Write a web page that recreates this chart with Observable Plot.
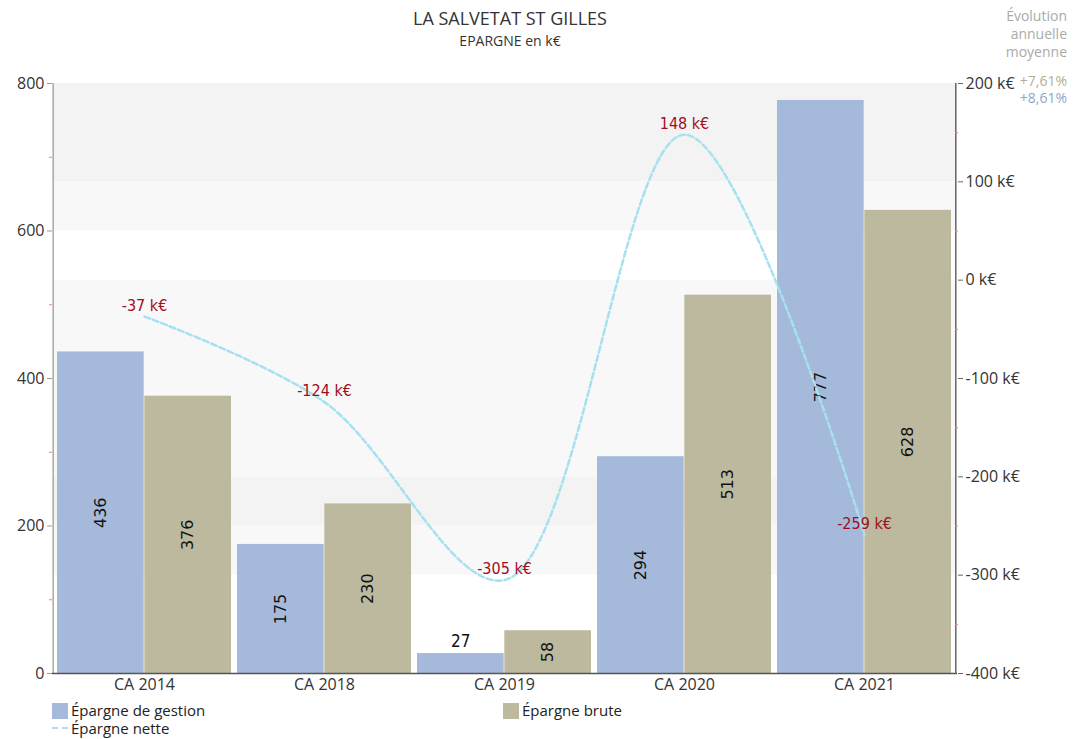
<!DOCTYPE html>
<html><head><meta charset="utf-8">
<script src="https://cdn.jsdelivr.net/npm/d3@7"></script>
<script src="https://cdn.jsdelivr.net/npm/@observablehq/plot@0.6"></script>
<style>
body{margin:0;background:#fff;font-family:"Open Sans",sans-serif;}
#wrap{position:relative;width:1083px;height:739px;overflow:hidden;}
#wrap svg{position:absolute;left:0;top:0;}
.t{position:absolute;white-space:nowrap;}
.cond text{font-stretch:condensed;}
</style></head><body>
<div id="wrap">
<div class="t" style="left:0;width:1020px;text-align:center;top:6px;font-size:18px;color:#333;">LA SALVETAT ST GILLES</div>
<div class="t" style="left:0;width:1020px;text-align:center;top:31px;font-size:14px;color:#333;">EPARGNE en k€</div>
<div class="t" style="right:16px;top:7px;text-align:right;font-size:14px;line-height:18px;color:#aaa;">Évolution<br>annuelle<br>moyenne</div>
<div class="t" id="evo1" style="right:16px;top:73px;font-size:14px;line-height:16px;color:#b3ae95;"></div>
<div class="t" id="evo2" style="right:16px;top:90px;font-size:14px;line-height:16px;color:#8ea6cc;"></div>
<div class="t" style="left:52px;top:702px;font-size:15px;line-height:16px;height:17px;color:#222;"><span style="display:inline-block;width:16px;height:16px;background:#a5badb;vertical-align:-3px;margin-right:3px"></span><span id="lg1"></span></div>
<div class="t" style="left:503px;top:702px;font-size:15px;line-height:16px;height:17px;color:#222;"><span style="display:inline-block;width:16px;height:16px;background:#bdb99f;vertical-align:-3px;margin-right:3px"></span><span id="lg2"></span></div>
<div class="t" style="left:52px;top:720px;font-size:15px;line-height:16px;color:#222;"><span style="display:inline-block;width:16px;height:0;border-top:2px dashed #a6e1ef;vertical-align:5px;margin-right:3px"></span><span id="lg3"></span></div>
</div>
<script>
const categories = ["CA 2014","CA 2018","CA 2019","CA 2020","CA 2021"];
const gestion = [436,175,27,294,777];
const brute = [376,230,58,513,628];
const nette = [-37,-124,-305,148,-259];
const seriesNames = ["Épargne de gestion","Épargne brute","Épargne nette"];
const leftTicks = [0,200,400,600,800];
const leftMinor = [100,300,500,700];
const rightTicks = [-400,-300,-200,-100,0,100,200];
const rightMinor = [-350,-250,-150,-50,50,150];
const evolution = ["+7,61%","+8,61%"];
const darkBands = [[100,200],[-250,-200]];
const lightBands = [[50,100],[-200,0],[-300,-250]];

document.getElementById("lg1").textContent = seriesNames[0];
document.getElementById("lg2").textContent = seriesNames[1];
document.getElementById("lg3").textContent = seriesNames[2];
document.getElementById("evo1").textContent = evolution[0];
document.getElementById("evo2").textContent = evolution[1];

const W = 1083, H = 739, mL = 52, mR = 126, mT = 83, mB = 66;
const pI = 0.033, pO = 0.022;
const step = (W - mL - mR) / (categories.length - pI + 2*pO);
const bw = step * (1 - pI);
const half = bw / 2;
const edge = step * pO + bw / 2; // from band centre to frame edge

const toLeft = v => (v + 400) * 800 / 600;
const fromLeft = d => Math.round(d * 600 / 800 - 400);

const rows = categories.map((c,i) => ({c, g: gestion[i], b: brute[i], n: nette[i]}));
const font = "Open Sans";
const condFont = "'DejaVu Sans Condensed', 'Liberation Sans Narrow', Roboto, sans-serif";

const plot = Plot.plot({
  width: W, height: H,
  marginLeft: mL, marginRight: mR, marginTop: mT, marginBottom: mB,
  style: {fontFamily: font, fontSize: "15px", color: "#333", background: "transparent"},
  x: {type: "band", domain: categories, paddingInner: pI, paddingOuter: pO, axis: null},
  y: {domain: [0, 800], axis: null},
  marks: [
    Plot.rect(darkBands, {y1: d => toLeft(d[0]), y2: d => toLeft(d[1]), fill: "#f3f3f3"}),
    Plot.rect(lightBands, {y1: d => toLeft(d[0]), y2: d => toLeft(d[1]), fill: "#f8f8f8"}),
    Plot.barY(rows, {x: "c", y: "g", fill: "#a5badb", insetRight: half}),
    Plot.barY(rows, {x: "c", y: "b", fill: "#bdb99f", insetLeft: half}),
    Plot.text(rows.filter(d => d.g >= 40), {x: "c", y: d => d.g / 2, text: d => String(d.g), rotate: -90, dx: -half/2, fill: "#111", fontSize: 16, fontFamily: "DejaVu Sans"}),
    Plot.text(rows.filter(d => d.g < 40), {x: "c", y: "g", text: d => String(d.g), dx: -half/2, dy: -12, fill: "#111", fontSize: 17, fontFamily: condFont, className: "cond"}),
    Plot.text(rows.filter(d => d.b >= 40), {x: "c", y: d => d.b / 2, text: d => String(d.b), rotate: -90, dx: half/2, fill: "#111", fontSize: 16, fontFamily: "DejaVu Sans"}),
    Plot.line(rows, {x: "c", y: d => toLeft(d.n), curve: "catmull-rom", stroke: "#a6e1ef", strokeWidth: 2.5, strokeDasharray: "6,3"}),
    Plot.text(rows, {x: "c", y: d => toLeft(d.n), text: d => d.n + " k€", dy: -11, fill: "#a10d1e", fontSize: 16, fontFamily: condFont, className: "cond"}),
    // left axis
    Plot.ruleX([categories[0]], {dx: -edge, y1: 0, y2: 800, stroke: "#aaa", strokeWidth: 1.5}),
    Plot.axisY({ticks: leftTicks, anchor: "left", tickSize: 5, tickPadding: 3, stroke: "#999", fill: "#333", fontSize: 16, label: null}),
    Plot.axisY({ticks: leftMinor, anchor: "left", tickSize: 3, tickFormat: () => "", stroke: "#f08080", label: null}),
    // right axis
    Plot.ruleX([categories[categories.length - 1]], {dx: edge, y1: 0, y2: 800, stroke: "#666", strokeWidth: 1.5}),
    Plot.axisY({ticks: rightTicks.map(toLeft), anchor: "right", tickFormat: d => fromLeft(d) + " k€", tickSize: 5, tickPadding: 3, stroke: "#666", fill: "#333", fontSize: 16, label: null}),
    Plot.axisY({ticks: rightMinor.map(toLeft), anchor: "right", tickSize: 3, dx: -3, tickFormat: () => "", stroke: "#f08080", label: null}),
    Plot.axisX({tickSize: 0, tickPadding: 5, fill: "#333", fontSize: 16, label: null}),
    Plot.ruleY([0], {stroke: "#555", strokeWidth: 1.5})
  ]
});
document.getElementById("wrap").prepend(plot);
</script>
</body></html>
